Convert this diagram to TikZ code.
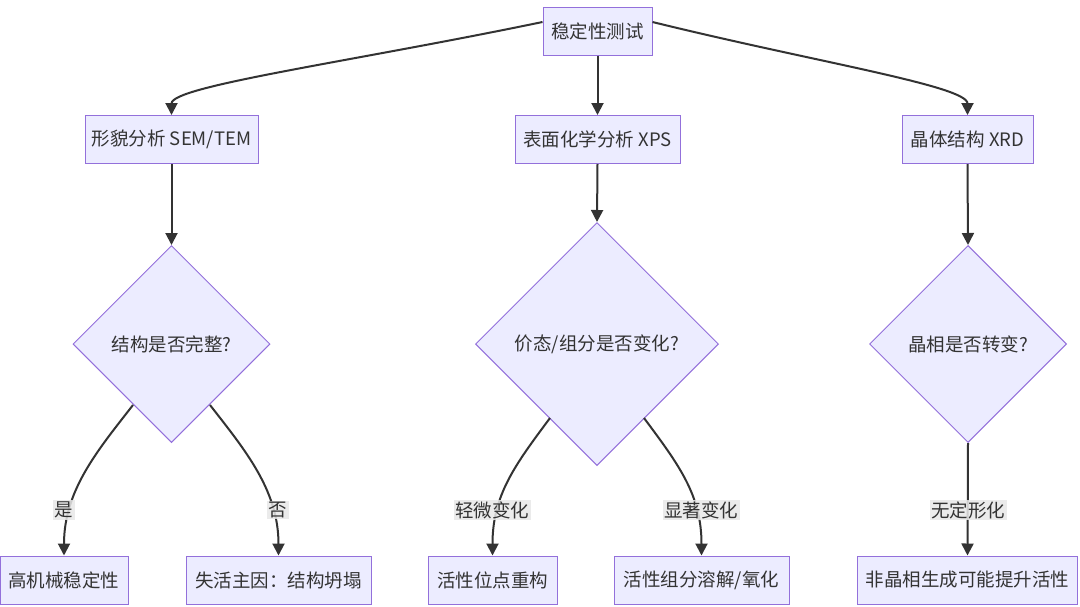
\documentclass[tikz,border=0pt]{standalone}
\usepackage{fontspec}
\setmainfont{Noto Sans CJK SC}
\usetikzlibrary{shapes.geometric,arrows.meta}
\definecolor{nodefill}{HTML}{ECECFF}
\definecolor{nodeline}{HTML}{9370DB}
\definecolor{edgecol}{HTML}{333333}
\definecolor{txt}{HTML}{333333}
\definecolor{lblbg}{HTML}{E8E8E8}
\begin{document}
\begin{tikzpicture}[x=1pt,y=-1pt,
  every node/.style={font=\fontsize{18.5}{22}\selectfont, text=txt},
  box/.style={draw=nodeline, fill=nodefill, line width=1pt, rectangle, minimum height=48pt, inner sep=0pt},
  dia/.style={draw=nodeline, fill=nodefill, line width=1pt, diamond, inner sep=0pt, aspect=1},
  arr/.style={draw=edgecol, line width=2pt, -{Triangle[length=12pt,width=12pt]}},
  lbl/.style={fill=lblbg, fill opacity=0.85, text opacity=1, inner sep=1.5pt}
]
\useasboundingbox (0,0) rectangle (1080,606);
\fill[white] (0,0) rectangle (1080,606);

\node[box, minimum width=109pt] (top) at (597.5,31) {稳定性测试};
\node[box, minimum width=173pt] (a) at (171.5,139.5) {形貌分析 SEM/TEM};
\node[box, minimum width=165pt] (b) at (597.5,139.5) {表面化学分析 XPS};
\node[box, minimum width=131pt] (c) at (967.5,139.5) {晶体结构 XRD};

\node[dia, minimum width=197pt, minimum height=197pt] (da) at (171.5,344) {};
\node at (da.center) {结构是否完整?};
\node[dia, minimum width=243pt, minimum height=243pt] (db) at (597,344) {};
\node at (db.center) {价态/组分是否变化?};
\node[dia, minimum width=197pt, minimum height=197pt] (dc) at (968,344) {};
\node at (dc.center) {晶相是否转变?};

\node[box, minimum width=128pt] (a1) at (64,580) {高机械稳定性};
\node[box, minimum width=185pt] (a2) at (278.5,580) {失活主因：结构坍塌};
\node[box, minimum width=129pt] (b1) at (492.5,580) {活性位点重构};
\node[box, minimum width=175pt] (b2) at (701.5,580) {活性组分溶解/氧化};
\node[box, minimum width=220pt] (c1) at (967.5,580) {非晶相生成可能提升活性};

% edges from top
\coordinate (tl) at ([yshift=9pt]top.west);
\coordinate (tr) at ([yshift=9pt]top.east);
\draw[arr] (tl) .. controls (350,62) and (171.5,86) .. (a.north);
\draw[arr] (tr) .. controls (815,62) and (967.5,86) .. (c.north);
\draw[arr] (top.south) -- (b.north);

\draw[arr] (a.south) -- (da.north);
\draw[arr] (b.south) -- (db.north);
\draw[arr] (c.south) -- (dc.north);

% diamond branches
\coordinate (dal) at (133,405);
\coordinate (dar) at (210,405);
\coordinate (dbl) at (550,418);
\coordinate (dbr) at (644,418);
\draw[arr] (dal) .. controls (98,450) and (64,490) .. (a1.north);
\draw[arr] (dar) .. controls (245,450) and (278.5,490) .. (a2.north);
\draw[arr] (dbl) .. controls (515,465) and (492.5,495) .. (b1.north);
\draw[arr] (dbr) .. controls (679,465) and (701.5,495) .. (b2.north);
\draw[arr] (dc.south) -- (c1.north);

\node[lbl] (la) at (64,510) {是};
\node[lbl] (lb) at (278,510) {否};
\node[lbl] (lc) at (492,510) {轻微变化};
\node[lbl] (ld) at (701,510) {显著变化};
\node[lbl] (le) at (968,510) {无定形化};
\end{tikzpicture}
\end{document}
